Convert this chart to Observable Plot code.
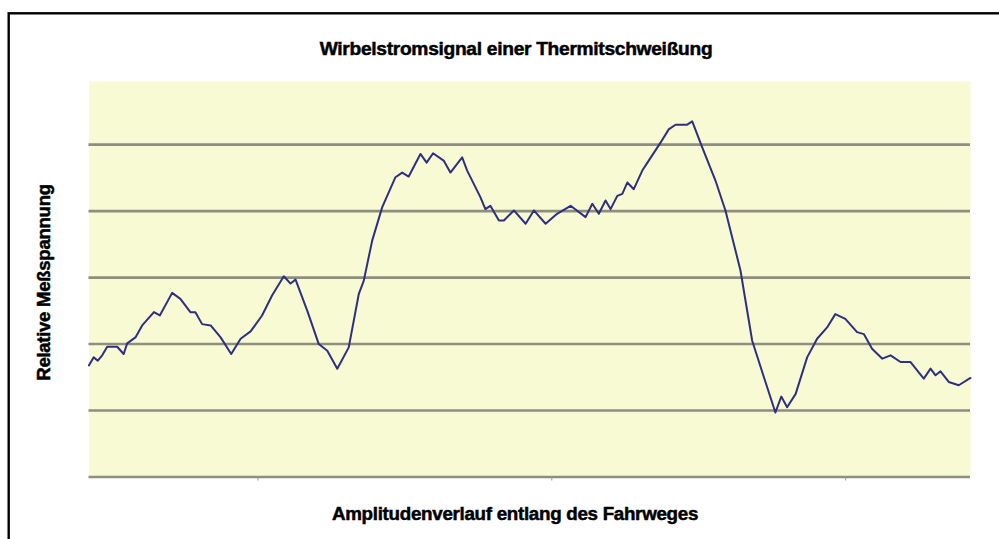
<!DOCTYPE html>
<html>
<head>
<meta charset="utf-8">
<script src="https://cdn.jsdelivr.net/npm/d3@7"></script>
<script src="https://cdn.jsdelivr.net/npm/@observablehq/plot@0.6"></script>
<style>
  html, body { margin: 0; padding: 0; background: #fff; overflow: hidden; }
  #chart { width: 999px; height: 539px; }
</style>
</head>
<body>
<div id="chart"></div>
<script>
const title = "Wirbelstromsignal einer Thermitschweißung";
const yLabel = "Relative Meßspannung";
const xLabel = "Amplitudenverlauf entlang des Fahrweges";

// position along the travel path (arbitrary units 0..300)
const pathPos = [0,1.6,3.0,4.5,6.2,9.6,11.8,13.0,15.8,18.1,
  22.1,24.1,28.3,31.1,34.5,36.2,38.5,41.4,44.8,48.4,
  51.6,55.0,58.9,62.3,66.3,68.6,70.3,74.3,78.2,81.1,
  84.5,88.4,91.8,93.5,95.2,96.4,99.8,104.3,106.6,108.8,
  112.8,114.9,117.1,120.7,123.0,127.0,128.7,133.2,134.9,136.6,
  139.5,141.2,144.6,148.6,151.4,155.4,159.3,163.9,169.0,171.3,
  173.5,175.8,177.5,179.8,181.5,183.2,185.4,188.3,190.5,194.5,
  197.3,199.6,203.6,205.3,208.7,213.2,216.6,221.7,225.7,229.7,
  233.6,235.6,237.6,240.5,244.4,247.8,251.2,254.0,257.4,261.4,
  263.7,266.5,270.0,272.8,276.2,279.6,284.1,286.4,288.1,289.8,
  292.6,296.0,300];

// relative measured voltage
const signal = [1.68,1.80,1.75,1.83,1.96,1.96,1.85,2.01,2.10,2.28,
  2.48,2.43,2.77,2.68,2.48,2.48,2.30,2.28,2.10,1.85,
  2.08,2.19,2.43,2.73,3.02,2.91,2.97,2.50,2.00,1.90,
  1.63,1.95,2.75,2.95,3.31,3.56,4.06,4.51,4.58,4.52,
  4.86,4.73,4.87,4.76,4.58,4.81,4.61,4.21,4.03,4.08,
  3.86,3.86,4.01,3.81,4.01,3.81,3.96,4.08,3.91,4.11,
  3.96,4.16,4.03,4.23,4.26,4.43,4.33,4.61,4.76,5.03,
  5.23,5.30,5.30,5.35,4.96,4.46,4.01,3.11,2.05,1.50,
  0.97,1.21,1.05,1.25,1.80,2.08,2.25,2.45,2.38,2.18,
  2.15,1.93,1.78,1.83,1.73,1.73,1.48,1.63,1.53,1.59,
  1.43,1.38,1.49];

const gridValues = [0, 1, 2, 3, 4, 5];
const xTickValues = [57.5, 157.5, 257.5];

const data = pathPos.map((x, i) => ({x, v: signal[i]}));

const plot = Plot.plot({
  width: 999,
  height: 539,
  marginLeft: 88.5,
  marginRight: 29,
  marginTop: 81,
  marginBottom: 62.5,
  x: {domain: [0, 300], axis: null},
  y: {domain: [0, 5.95], axis: null},
  style: {fontFamily: "'Liberation Sans', Arial, sans-serif", background: "#fff"},
  marks: [
    Plot.frame({fill: "#f7fad2", stroke: "none"}),
    Plot.ruleY(gridValues, {stroke: "#8e8e80", strokeWidth: 2.6}),
    Plot.axisX({ticks: xTickValues, tickFormat: () => "", tickSize: 4, stroke: "#9a9a90", label: null}),
    Plot.line(data, {x: "x", y: "v", stroke: "#2f2f7f", strokeWidth: 2})
  ]
});

const svg = d3.select(plot);
svg.append("rect")
  .attr("x", 8.7).attr("y", 13.3)
  .attr("width", 1100).attr("height", 700)
  .attr("fill", "none").attr("stroke", "#000").attr("stroke-width", 2.4);

const font = "'Liberation Sans', Arial, sans-serif";
function label(sel, size) {
  return sel.attr("text-anchor", "middle")
    .attr("font-family", font).attr("font-weight", "bold").attr("font-size", size)
    .attr("fill", "#000").attr("stroke", "#000").attr("stroke-width", 0.5)
    .attr("letter-spacing", -0.3);
}
label(svg.append("text").attr("x", 516).attr("y", 55), 19.2).text(title);
label(svg.append("text").attr("x", 515).attr("y", 520), 18.8).text(xLabel);
label(svg.append("text").attr("transform", "translate(50,282.5) rotate(-90)"), 18.6).text(yLabel);

document.getElementById("chart").appendChild(plot);
</script>
</body>
</html>
